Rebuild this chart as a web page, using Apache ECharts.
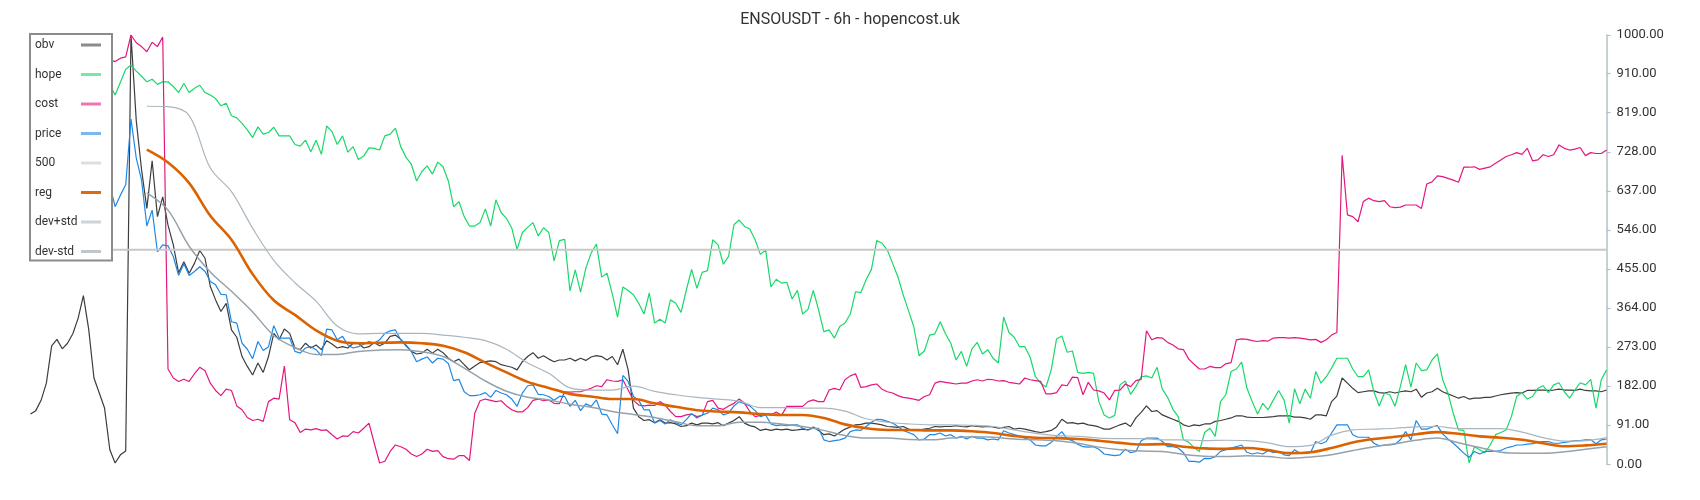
<!DOCTYPE html>
<html>
<head>
<meta charset="utf-8">
<script src="https://cdn.jsdelivr.net/npm/echarts@6/dist/echarts.min.js"></script>
<style>
html,body{margin:0;padding:0;background:#fff;}
#chart{width:1700px;height:500px;}
</style>
</head>
<body>
<div id="chart"></div>
<script>
// ---- data (index = bar number, 6h candles) ----
const titleText = 'ENSOUSDT - 6h - hopencost.uk';
const yTicks = [0, 91, 182, 273, 364, 455, 546, 637, 728, 819, 910, 1000];

const obv = [
117,125,149,189,276,291,269,282,304,340,
393,315,201,166,131,34,3,22,31,1000,
800,686,596,707,577,623,557,511,446,472,
445,468,498,480,414,383,356,375,313,296,
251,228,208,236,214,251,305,290,315,305,
271,267,282,271,278,267,288,280,271,274,
271,282,282,271,274,284,276,282,298,301,
291,276,263,257,259,268,259,268,260,247,
239,245,232,220,229,237,239,241,239,232,
229,226,220,239,251,260,247,253,245,239,
243,243,247,241,247,242,250,253,251,243,
251,232,268,220,131,111,102,104,97,104,
96,97,94,88,90,96,92,96,96,94,
97,90,96,102,111,96,90,87,79,82,
79,82,80,82,79,80,82,80,87,79,
69,71,66,74,82,87,92,93,96,96,
94,92,88,87,86,88,82,79,79,82,
84,88,87,88,88,90,88,87,90,88,
87,88,87,84,86,88,82,84,82,79,
76,74,76,79,87,105,96,97,94,96,
92,90,87,82,82,87,92,96,88,108,
121,136,123,125,115,110,105,100,92,88,
92,90,94,94,100,102,105,108,113,113,
110,109,109,109,110,111,113,113,113,110,
110,108,105,115,115,113,146,159,201,189,
177,167,169,171,171,167,166,169,166,169,
171,169,175,156,166,169,177,169,164,159,
154,158,152,154,154,156,156,159,162,164,
166,167,166,172,172,173,173,172,173,175,
173,173,172,175,172,171,171,169,173
];

const hope = [
880,885,890,895,888,880,885,892,898,890,
885,880,878,882,890,885,860,890,920,930,
916,904,891,897,885,891,891,880,866,887,
866,876,883,866,860,852,835,841,812,807,
794,779,761,786,769,773,785,765,765,765,
745,741,755,728,755,722,788,775,745,765,
727,740,710,718,737,736,732,765,769,783,
740,715,699,660,682,695,676,704,693,660,
600,612,577,555,555,563,595,555,616,586,
573,550,500,540,552,563,532,551,540,474,
521,524,404,453,401,457,492,513,436,445,
397,343,413,405,395,375,350,399,329,338,
329,383,375,354,406,454,410,447,451,523,
511,466,485,558,569,554,548,523,489,499,
413,431,422,424,385,405,350,361,405,360,
309,313,294,321,329,350,402,400,430,454,
521,515,499,468,437,395,358,321,253,264,
301,304,332,304,282,243,263,228,269,284,
257,267,247,236,343,307,296,274,274,250,
204,189,180,220,292,299,261,264,214,212,
214,212,146,115,108,114,185,194,163,181,
204,206,201,226,175,156,128,111,57,51,
39,30,74,84,65,146,162,216,222,238,
177,146,117,142,127,150,172,150,96,176,
141,175,154,216,189,204,224,247,247,247,
222,204,204,220,169,136,166,162,135,181,
232,180,236,218,220,243,257,197,166,119,
80,79,3,41,34,27,45,69,74,80,
111,158,167,152,158,177,183,167,185,190,
169,154,173,190,185,198,131,197,220
];

const cost = [
945,950,948,952,955,950,947,944,940,945,
948,944,940,938,940,942,938,946,949,1000,
982,973,961,983,973,995,222,201,193,198,
193,211,226,218,189,172,160,175,172,136,
127,109,102,105,100,146,154,152,229,104,
97,74,82,80,83,79,80,69,59,66,
65,76,73,84,96,49,3,7,30,45,
41,35,24,18,24,35,30,32,18,13,
12,20,20,9,119,148,152,149,146,148,
136,127,122,122,132,149,152,148,150,142,
141,169,168,169,169,173,177,183,181,197,
194,193,197,173,149,138,136,138,137,146,
138,123,111,111,115,117,111,114,146,149,
131,128,136,142,152,142,123,111,114,118,
115,122,114,135,135,135,135,146,150,146,
146,173,177,173,197,206,211,179,181,185,
187,175,169,166,160,156,154,152,149,158,
162,189,193,191,189,187,189,189,194,197,
194,198,197,194,195,191,189,187,201,197,
195,193,164,164,167,185,183,203,202,162,
191,173,171,166,150,172,173,187,181,195,
198,311,290,295,294,284,278,269,267,245,
233,222,222,228,225,225,234,237,290,292,
291,288,286,288,287,294,295,295,294,295,
294,292,290,291,284,290,301,307,720,581,
577,565,612,620,614,612,614,600,598,599,
604,604,604,596,653,658,672,670,666,662,
657,692,692,693,687,690,693,701,709,717,
721,726,722,736,707,709,721,717,721,744,
736,732,734,738,719,726,724,724,732
];

const price = [
640,650,655,645,630,620,635,645,650,640,
630,625,640,655,648,651,600,627,651,804,
713,662,555,592,495,511,509,484,440,467,
440,449,460,449,426,418,396,395,332,329,
282,268,246,286,265,274,323,294,294,294,
263,259,271,274,267,253,315,313,290,298,
278,271,274,280,286,282,290,305,311,313,
290,278,263,239,245,250,236,247,245,235,
195,198,169,160,160,162,167,156,172,166,
162,152,135,166,183,185,163,162,158,149,
158,158,135,149,125,141,135,150,117,115,
92,71,207,193,158,149,127,127,96,102,
94,104,97,92,104,118,108,115,119,131,
127,115,119,136,146,141,136,125,111,115,
94,90,92,90,92,92,84,80,84,84,
57,53,55,57,61,76,80,79,88,98,
105,104,100,96,88,79,74,69,57,59,
69,69,73,66,69,61,65,59,65,61,
61,57,59,57,78,73,69,66,61,57,
45,43,43,51,65,76,59,55,47,41,
40,41,35,24,22,20,22,35,27,30,
55,61,61,61,53,41,41,38,27,7,
7,5,14,13,18,30,34,38,41,45,
28,24,27,24,32,27,30,22,20,34,
26,26,27,53,48,53,73,92,92,92,
69,63,63,63,49,43,45,45,47,57,
76,57,102,82,82,87,90,71,59,49,
38,26,16,30,24,30,30,30,32,38,
41,45,45,47,48,51,53,53,49,49,
51,53,55,55,57,57,48,57,59
];

const level500 = [500, 500]; // flat reference line, first and last bar

// smooth bands: one value every 4 bars starting at bar 22
const bandStart = 22;
const bandStep = 4;
const reg = [
733,703,655,579,523,443,382,348,312,288,
282,283,284,282,276,261,237,214,192,178,
164,158,152,152,142,134,126,123,121,117,
115,115,108,93,84,80,80,79,79,77,
73,66,62,61,59,55,50,46,47,41,
37,36,38,33,26,28,38,51,59,64,
70,75,71,65,62,57,49,42,44,48
];
const devPlus = [
834,833,812,690,635,550,475,423,380,322,
304,305,305,305,301,296,288,268,236,212,
178,173,173,182,170,162,156,152,147,132,
132,131,131,124,106,98,94,92,92,91,
88,80,72,67,65,61,60,60,57,57,
55,56,55,50,41,44,68,80,82,84,
87,88,83,83,83,75,62,54,55,62
];
const devMinus = [
632,592,508,448,403,355,300,272,256,256,
263,266,267,262,251,224,194,170,156,150,
140,133,123,116,109,99,90,90,98,98,
94,88,79,67,61,61,58,57,61,64,
63,59,57,55,49,40,34,31,30,23,
19,18,20,18,14,17,22,32,41,48,
56,61,50,39,28,26,26,29,35,41
];

// ---- build chart ----
const lastIndex = obv.length - 1;
const full = arr => arr.map((v, i) => [i, v]);
const band = arr => arr.map((v, k) => [bandStart + k * bandStep, v]);

const FONT = 'Roboto, "DejaVu Sans", sans-serif';

function lineSeries(name, data, color, width, extra) {
  return Object.assign({
    name: name,
    type: 'line',
    data: data,
    symbol: 'none',
    showSymbol: false,
    animation: false,
    silent: true,
    lineStyle: { color: color, width: width },
    itemStyle: { color: color },
    emphasis: { disabled: true }
  }, extra || {});
}

const chart = echarts.init(document.getElementById('chart'), null, { renderer: 'canvas' });
chart.setOption({
  animation: false,
  backgroundColor: '#ffffff',
  title: {
    text: titleText,
    left: 'center',
    top: 12,
    padding: 0,
    textStyle: { fontFamily: FONT, fontSize: 16, fontWeight: 'normal', color: '#333' }
  },
  legend: {
    orient: 'vertical',
    left: 30,
    top: 34,
    align: 'right',
    padding: [5, 11, 3, 5],
    itemGap: 17.5,
    itemWidth: 20,
    itemHeight: 3,
    icon: 'rect',
    backgroundColor: '#ffffff',
    borderColor: '#8c8c8c',
    borderWidth: 2,
    selectedMode: false,
    itemStyle: { opacity: 0.6 },
    formatter: n => '{n|' + n + '}',
    textStyle: {
      rich: { n: { width: 41, height: 12, align: 'left', fontSize: 12, lineHeight: 12, color: '#333', fontFamily: FONT } }
    },
    data: ['obv', 'hope', 'cost', 'price', '500',
      { name: 'reg', itemStyle: { opacity: 0.95 } },
      'dev+std', 'dev-std']
  },
  grid: { left: 30.5, right: 93.4, top: 35, bottom: 35.7, containLabel: false },
  xAxis: { type: 'value', min: 0, max: lastIndex, show: false },
  yAxis: {
    type: 'value',
    position: 'right',
    min: 0,
    max: 1000,
    splitLine: { show: false },
    axisLine: { show: true, onZero: false, lineStyle: { color: '#b4c0c7', width: 1.5 } },
    axisTick: { show: true, length: 4, customValues: yTicks, lineStyle: { color: '#b4c0c7', width: 1.2 } },
    axisLabel: {
      customValues: yTicks,
      formatter: v => Number(v).toFixed(2),
      margin: 10,
      fontSize: 13,
      color: '#333',
      fontFamily: FONT
    }
  },
  series: [
    lineSeries('obv', full(obv), '#3d3d3d', 1.2),
    lineSeries('hope', full(hope), '#19d86a', 1.2),
    lineSeries('cost', full(cost), '#e4177f', 1.2),
    lineSeries('price', full(price), '#1e88e5', 1.2),
    lineSeries('500', [[0, level500[0]], [lastIndex, level500[1]]], '#c8c8c8', 2),
    lineSeries('reg', band(reg), '#dc6200', 2.6, { smooth: 0.35 }),
    lineSeries('dev+std', band(devPlus), '#aab6bf', 1.2, { smooth: 0.35 }),
    lineSeries('dev-std', band(devMinus), '#95a2ab', 1.5, { smooth: 0.35 })
  ]
});
</script>
</body>
</html>
